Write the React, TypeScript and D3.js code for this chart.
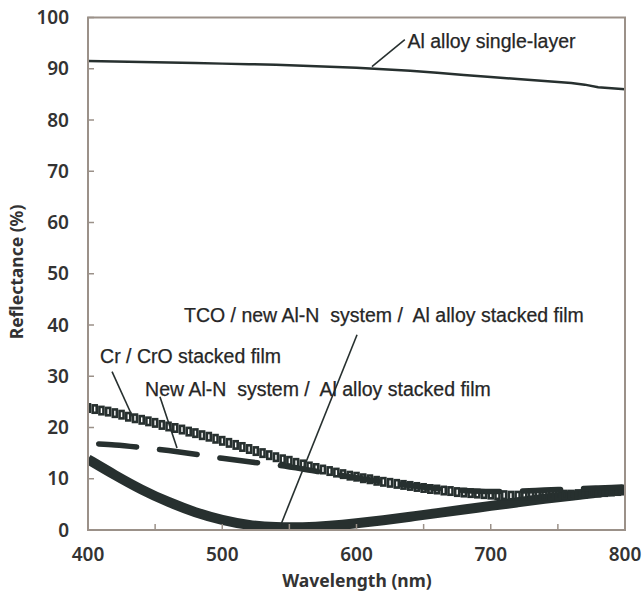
import React from "react";
import * as d3 from "d3";

// ---- data ----
const alWl = [400, 420, 440, 460, 480, 500, 520, 540, 560, 580, 600, 620, 640, 660, 680, 700, 720, 740, 760, 770, 780, 800];
const alVal = [91.5, 91.4, 91.3, 91.2, 91.1, 91.0, 90.9, 90.8, 90.6, 90.4, 90.2, 89.9, 89.6, 89.2, 88.8, 88.4, 88.0, 87.6, 87.2, 86.9, 86.4, 86.0];

const crWl = [400, 405, 410, 415, 420, 425, 430, 435, 440, 445, 450, 455, 460, 465, 470, 475, 480, 485, 490, 495, 500, 505, 510, 515, 520, 525, 530, 535, 540, 545, 550, 555, 560, 565, 570, 575, 580, 585, 590, 595, 600, 605, 610, 615, 620, 625, 630, 635, 640, 645, 650, 655, 660, 665, 670, 675, 680, 685, 690, 695, 700, 705, 710, 715, 720, 725, 730, 735, 740, 745, 750, 755, 760, 765, 770, 775, 780, 785, 790, 795, 800];
const crVal = [23.8, 23.6, 23.3, 23.1, 22.8, 22.5, 22.1, 21.8, 21.5, 21.2, 20.9, 20.5, 20.2, 19.9, 19.6, 19.2, 18.9, 18.5, 18.2, 17.8, 17.4, 17.0, 16.6, 16.2, 15.8, 15.4, 15.0, 14.6, 14.2, 13.8, 13.5, 13.1, 12.8, 12.4, 12.1, 11.8, 11.5, 11.2, 10.9, 10.6, 10.4, 10.1, 9.9, 9.6, 9.4, 9.2, 9.0, 8.8, 8.6, 8.4, 8.2, 8.0, 7.9, 7.7, 7.6, 7.4, 7.3, 7.2, 7.1, 7.0, 6.9, 6.8, 6.8, 6.7, 6.7, 6.7, 6.7, 6.7, 6.7, 6.8, 6.8, 6.9, 6.9, 7.0, 7.1, 7.2, 7.3, 7.4, 7.5, 7.6, 7.7];

const newWl = [408, 420, 440, 460, 480, 500, 520, 540, 560, 580, 600, 620, 640, 660, 680, 700, 720, 740, 760, 780, 800];
const newVal = [16.8, 16.6, 16.1, 15.5, 14.8, 14.0, 13.3, 12.7, 11.9, 11.0, 10.2, 9.4, 8.7, 8.1, 7.7, 7.5, 7.6, 7.8, 8.0, 8.2, 8.4];

const tcoWl = [400, 420, 440, 460, 480, 500, 520, 540, 560, 580, 600, 620, 640, 660, 680, 700, 720, 740, 760, 780, 800];
const tcoVal = [13.8, 10.7, 7.8, 5.4, 3.4, 1.9, 0.9, 0.5, 0.5, 0.8, 1.3, 1.9, 2.6, 3.3, 4.0, 4.7, 5.4, 6.1, 6.7, 7.3, 7.9];

const xTicks = [400, 500, 600, 700, 800];
const xMinorTicks = [450, 550, 650, 750];
const yTicks = [0, 10, 20, 30, 40, 50, 60, 70, 80, 90, 100];

// annotations: label, text anchor (nm,%), leader from (nm,%) to (nm,%)
const annLabels = ["Al alloy single-layer", "TCO / new Al-N  system /  Al alloy stacked film", "Cr / CrO stacked film", "New Al-N  system /  Al alloy stacked film"];
const annText = [[638, 94.0], [471.5, 40.6], [409, 32.6], [442.5, 26.2]];
const annLeader = [[[611.5, 90.4], [636, 95.7]], [[600.4, 38.1], [543, 0.6]], [[417.9, 30.9], [433.5, 21.9]], [[453.6, 26.0], [466.3, 16.0]]];

const W = 643, H = 599;
const M = { left: 88, right: 625, top: 17.5, bottom: 530 };
const ink = "#27302f";
const axisCol = "#9b9189";
const txt = "#333333";

export default function App() {
  const x = d3.scaleLinear().domain([400, 800]).range([M.left, M.right]);
  const y = d3.scaleLinear().domain([0, 100]).range([M.bottom, M.top]);
  const line = (wl: number[], v: number[], curve: any = d3.curveMonotoneX) =>
    d3.line<number>().x((_, i) => x(wl[i])).y((_, i) => y(v[i])).curve(curve)(wl.map((_, i) => i)) || "";

  return (
    <svg width={W} height={H} style={{ position: "absolute", left: 0, top: 0, background: "#fff" }}>
      <defs>
        <clipPath id="plot">
          <rect x={M.left} y={M.top} width={M.right - M.left} height={M.bottom - M.top} />
        </clipPath>
      </defs>
      <g clipPath="url(#plot)">
        <path d={line(tcoWl, tcoVal, d3.curveBasis)} fill="none" stroke={ink} strokeWidth={10} />
        {crWl.map((w, i) => (
          <rect key={i} x={x(w) - 2} y={y(crVal[i]) - 3.7} width={4} height={7.4} fill="none" stroke={ink} strokeWidth={2.6} />
        ))}
        <path d={line(newWl, newVal)} fill="none" stroke={ink} strokeWidth={5.5} strokeDasharray="38 23" strokeLinecap="round" />
        <path d={line(alWl, alVal, d3.curveLinear)} fill="none" stroke={ink} strokeWidth={2.5} />
      </g>
      {/* frame */}
      <rect x={M.left} y={M.top} width={M.right - M.left} height={M.bottom - M.top} fill="none" stroke={axisCol} strokeWidth={2} />
      {/* ticks */}
      {yTicks.map((t) => (
        <g key={"y" + t}>
          <line x1={M.left} x2={M.left + 6} y1={y(t)} y2={y(t)} stroke={axisCol} strokeWidth={1.5} />
          <text x={69} y={y(t)} dy="0.35em" textAnchor="end" fontFamily="'Noto Sans', sans-serif" fontWeight={600} fontSize={19} fill={txt}>{t}</text>
        </g>
      ))}
      {xMinorTicks.concat(xTicks).map((t) => (
        <line key={"xt" + t} x1={x(t)} x2={x(t)} y1={M.bottom} y2={M.bottom - 6} stroke={axisCol} strokeWidth={1.5} />
      ))}
      {xTicks.map((t) => (
        <text key={"xl" + t} x={x(t)} y={554.5} dy="0.35em" textAnchor="middle" fontFamily="'Noto Sans', sans-serif" fontWeight={600} fontSize={19} fill={txt}>{t}</text>
      ))}
      <text x={357} y={581} dy="0.35em" textAnchor="middle" fontFamily="'Noto Sans', sans-serif" fontWeight={700} fontSize={17.5} fill={txt}>Wavelength (nm)</text>
      <text transform="translate(17,272) rotate(-90)" dy="0.35em" textAnchor="middle" fontFamily="'Noto Sans', sans-serif" fontWeight={700} fontSize={17.5} fill={txt}>Reflectance (%)</text>
      {/* annotations */}
      {annLabels.map((l, i) => (
        <g key={"a" + i}>
          <line x1={x(annLeader[i][0][0])} y1={y(annLeader[i][0][1])} x2={x(annLeader[i][1][0])} y2={y(annLeader[i][1][1])} stroke={ink} strokeWidth={1.6} />
          <text x={x(annText[i][0])} y={y(annText[i][1])} xmlSpace="preserve" style={{ whiteSpace: "pre" }} fontFamily="'Liberation Sans', Arial, sans-serif" fontSize={19.5} fill="#262626" stroke="#262626" strokeWidth={0.25}>{l}</text>
        </g>
      ))}
    </svg>
  );
}
